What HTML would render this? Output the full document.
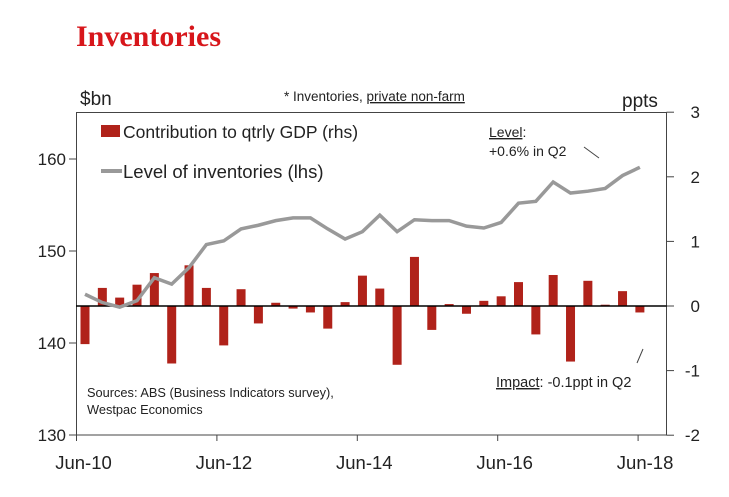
<!DOCTYPE html>
<html><head><meta charset="utf-8"><style>
body{margin:0;background:#fff;width:729px;height:492px;overflow:hidden}
svg text{font-family:"Liberation Sans",Arial,sans-serif;fill:#222}
</style></head><body>
<svg width="729" height="492" xmlns="http://www.w3.org/2000/svg">
<text x="76" y="46" style="font-family:'Liberation Serif',serif;font-weight:bold;font-size:30px;fill:#d7161b">Inventories</text>
<text x="80" y="105" font-size="19">$bn</text>
<text x="622" y="107" font-size="19">ppts</text>
<text x="284" y="101" font-size="13.5">* Inventories, <tspan text-decoration="underline">private non-farm</tspan></text>
<rect x="76.5" y="112.5" width="590" height="322.5" fill="none" stroke="#444" stroke-width="1"/>
<g id="grid"></g>
<g id="bars"></g>
<line x1="76" x2="667" y1="306" y2="306" stroke="#000" stroke-width="1.5"/>
<g id="line"></g>
<g id="axes"></g>
<rect x="101" y="125" width="19" height="12" fill="#b0221a"/>
<text x="123" y="138" font-size="17.5">Contribution to qtrly GDP (rhs)</text>
<line x1="101" x2="122" y1="171" y2="171" stroke="#999" stroke-width="4"/>
<text x="123" y="178" font-size="18.5">Level of inventories (lhs)</text>
<text x="489" y="137" font-size="14"><tspan text-decoration="underline">Level</tspan>:</text>
<text x="489" y="156" font-size="14">+0.6% in Q2</text>
<line x1="584" y1="147" x2="599" y2="158" stroke="#444"/>
<text x="496" y="387" font-size="14.5"><tspan text-decoration="underline">Impact</tspan>: -0.1ppt in Q2</text>
<line x1="637" y1="363" x2="643" y2="349" stroke="#444"/>
<text x="87" y="397" font-size="12.8">Sources: ABS (Business Indicators survey),</text>
<text x="87" y="414" font-size="12.8">Westpac Economics</text>
</svg>
<script>
const contribution=[-0.59,0.28,0.13,0.33,0.51,-0.89,0.63,0.28,-0.61,0.26,-0.27,0.05,-0.04,-0.10,-0.35,0.06,0.47,0.27,-0.91,0.76,-0.37,0.03,-0.12,0.08,0.15,0.37,-0.44,0.48,-0.86,0.39,0.02,0.23,-0.10];
const level=[145.3,144.4,143.9,144.6,147.1,146.4,148.2,150.7,151.1,152.4,152.8,153.3,153.6,153.6,152.4,151.3,152.1,153.9,152.1,153.4,153.3,153.3,152.7,152.5,153.1,155.2,155.4,157.5,156.3,156.5,156.8,158.2,159.1];
const leftTicks=[130,140,150,160];
const rightTicks=[-2,-1,0,1,2,3];
const xLabels=["Jun-10","Jun-12","Jun-14","Jun-16","Jun-18"];
const NS="http://www.w3.org/2000/svg";
const xBar=i=>85+17.34*i;
const xTick=i=>76.5+17.55*i*8;
const yL=v=>435-(v-130)*9.2;
const yR=v=>306-v*64.6;
function mk(tag,attrs,parent,txt){const e=document.createElementNS(NS,tag);for(const k in attrs)e.setAttribute(k,attrs[k]);if(txt!==undefined)e.textContent=txt;document.getElementById(parent).appendChild(e);return e;}
contribution.forEach((v,i)=>{
 const y0=yR(0),y1=yR(v);
 const r=mk('rect',{x:xBar(i)-4.5,y:Math.min(y0,y1),width:9,height:Math.abs(y1-y0),fill:'#b0221a'},'bars');
 
 
});
const pts=level.map((v,i)=>xBar(i)+','+yL(v)).join(' ');
const pl=mk('polyline',{points:pts,fill:'none',stroke:'#999','stroke-width':3.5,'stroke-linejoin':'miter'},'line');


leftTicks.forEach(v=>{
 const t=mk('line',{x1:69,x2:76.5,y1:yL(v),y2:yL(v),stroke:'#444'},'axes');
 
 
 const l=mk('text',{x:66,y:yL(v)+6,'text-anchor':'end','font-size':17},'axes',String(v));
 
 
});
rightTicks.forEach(v=>{
 const t=mk('line',{x1:666.5,x2:674,y1:yR(v),y2:yR(v),stroke:'#444'},'axes');
 
 
 const l=mk('text',{x:700,y:yR(v)+6,'text-anchor':'end','font-size':17},'axes',String(v));
 
 
});
xLabels.forEach((s,i)=>{
 const x=xTick(i);
 const t=mk('line',{x1:x,x2:x,y1:435,y2:441,stroke:'#444'},'axes');
 
 
 const l=mk('text',{x:x+7,y:469,'text-anchor':'middle','font-size':18.5},'axes',s);
 
 
});
</script>
</body></html>
